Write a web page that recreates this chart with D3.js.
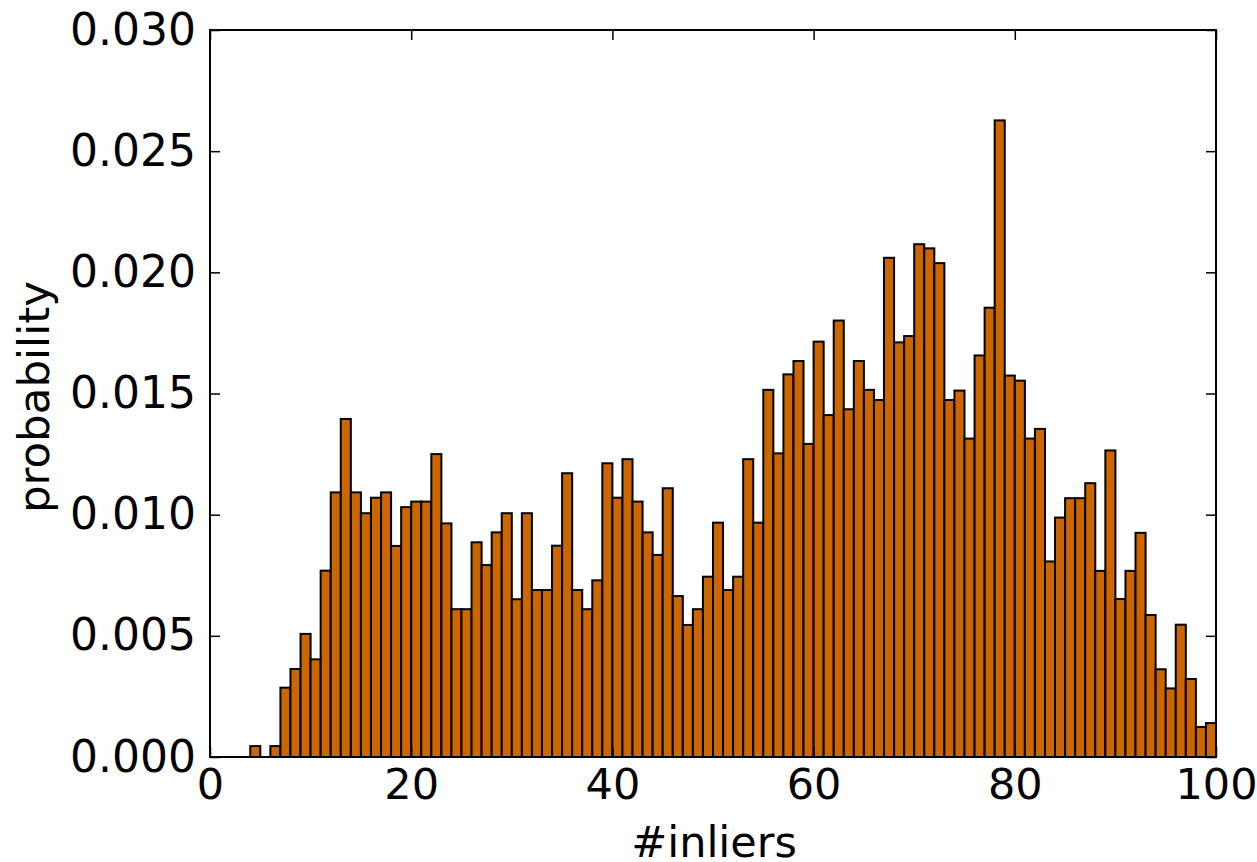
<!DOCTYPE html>
<html>
<head>
<meta charset="utf-8">
<script src="https://cdn.jsdelivr.net/npm/d3@7"></script>
<style>
  body { margin: 0; background: #fff; }
  text { font-family: "DejaVu Sans", sans-serif; fill: #000; }
</style>
</head>
<body>
<div id="chart"></div>
<script>
// histogram bins: bin i covers [i, i+1)
var binStart = d3.range(0, 100);
var probability = [
  0, 0, 0, 0, 0.00045, 0, 0.00045, 0.00286, 0.00363, 0.00508,
  0.00403, 0.00769, 0.01092, 0.01395, 0.01092, 0.01006, 0.01070, 0.01092, 0.00871, 0.01031,
  0.01054, 0.01054, 0.01250, 0.00964, 0.00610, 0.00610, 0.00886, 0.00792, 0.00927, 0.01006,
  0.00651, 0.01006, 0.00689, 0.00689, 0.00872, 0.01171, 0.00689, 0.00610, 0.00729, 0.01212,
  0.01070, 0.01229, 0.01054, 0.00927, 0.00834, 0.01109, 0.00664, 0.00545, 0.00610, 0.00744,
  0.00967, 0.00689, 0.00744, 0.01229, 0.00967, 0.01515, 0.01253, 0.01579, 0.01634, 0.01292,
  0.01714, 0.01411, 0.01801, 0.01435, 0.01634, 0.01515, 0.01473, 0.02060, 0.01711, 0.01737,
  0.02116, 0.02099, 0.02038, 0.01473, 0.01512, 0.01314, 0.01657, 0.01854, 0.02627, 0.01574,
  0.01553, 0.01314, 0.01354, 0.00807, 0.00988, 0.01068, 0.01068, 0.01130, 0.00768, 0.01265,
  0.00652, 0.00768, 0.00925, 0.00586, 0.00362, 0.00283, 0.00546, 0.00322, 0.00124, 0.00140
];
var xTicks = [0, 20, 40, 60, 80, 100];
var yTicks = [0, 0.005, 0.010, 0.015, 0.020, 0.025, 0.030];

var W = 1257, H = 862;
var margin = { top: 30, right: 41, bottom: 105, left: 210 };
var width = W - margin.left - margin.right;
var height = H - margin.top - margin.bottom;

var svg = d3.select('#chart').append('svg')
  .attr('width', W)
  .attr('height', H);

var g = svg.append('g')
  .attr('transform', 'translate(' + margin.left + ',' + margin.top + ')');

var x = d3.scaleLinear().domain([0, 100]).range([0, width]);
var y = d3.scaleLinear().domain([0, 0.03]).range([height, 0]);

// bars
g.selectAll('.bar')
  .data(binStart)
  .enter().append('rect')
  .attr('class', 'bar')
  .attr('x', function (d) { return x(d); })
  .attr('y', function (d, i) { return y(probability[i]); })
  .attr('width', function (d) { return x(d + 1) - x(d); })
  .attr('height', function (d, i) { return height - y(probability[i]); })
  .style('fill', '#cc6600')
  .style('stroke', '#000')
  .style('stroke-width', 2);

// axes, ticks pointing inward
function styleAxis(sel, labels, size) {
  sel.select('.domain').remove();
  sel.selectAll('.tick line').attr('stroke', '#000').attr('stroke-width', 1.5);
  sel.selectAll('.tick text').style('font-size', size + 'px');
  if (!labels) sel.selectAll('.tick text').remove();
}

g.append('g')
  .attr('transform', 'translate(0,' + height + ')')
  .call(d3.axisBottom(x).tickValues(xTicks).tickFormat(d3.format('d')).tickSize(-10).tickPadding(11))
  .call(styleAxis, true, 43);

g.append('g')
  .call(d3.axisTop(x).tickValues(xTicks).tickSize(-10))
  .call(styleAxis, false, 43);

g.append('g')
  .call(d3.axisLeft(y).tickValues(yTicks).tickFormat(d3.format('.3f')).tickSize(-10).tickPadding(14))
  .call(styleAxis, true, 44);

g.append('g')
  .attr('transform', 'translate(' + width + ',0)')
  .call(d3.axisRight(y).tickValues(yTicks).tickSize(-10))
  .call(styleAxis, false, 43);

// frame
g.append('rect')
  .attr('width', width)
  .attr('height', height)
  .style('fill', 'none')
  .style('stroke', '#000')
  .style('stroke-width', 2);

// axis titles
svg.append('text')
  .attr('x', margin.left + width / 2 + 1)
  .attr('y', 857)
  .attr('text-anchor', 'middle')
  .style('font-size', '43px')
  .text('#inliers');

svg.append('text')
  .attr('transform', 'translate(49,397) rotate(-90)')
  .attr('text-anchor', 'middle')
  .style('font-size', '43.5px')
  .text('probability');
</script>
</body>
</html>
